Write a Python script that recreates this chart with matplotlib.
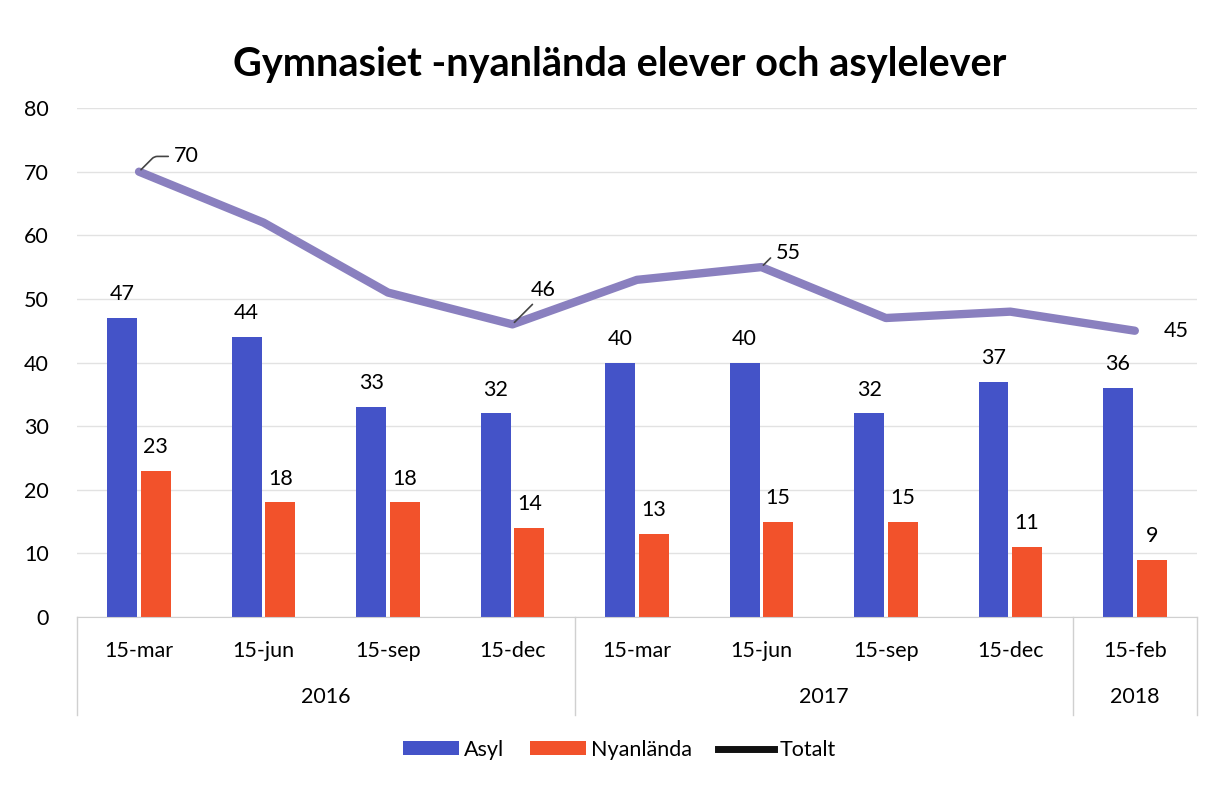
import matplotlib
matplotlib.use("Agg")
import matplotlib.pyplot as plt
from matplotlib.lines import Line2D
import numpy as np

plt.rcParams['font.family'] = ['Lato', 'DejaVu Sans']

months = ["15-mar", "15-jun", "15-sep", "15-dec", "15-mar", "15-jun", "15-sep", "15-dec", "15-feb"]
years = ["2016", "2017", "2018"]
year_spans = [(0, 3), (4, 7), (8, 8)]
asyl = [47, 44, 33, 32, 40, 40, 32, 37, 36]
nyanlanda = [23, 18, 18, 14, 13, 15, 15, 11, 9]
totalt = [70, 62, 51, 46, 53, 55, 47, 48, 45]
# which totals carry a label: index -> (dx, dy) offset in points
total_labels = {0: (34, 11), 3: (22, 25), 5: (19, 10), 8: (30, 0)}

BLUE = "#4453c8"
ORANGE = "#f2522b"
LINE = "#8a80bf"
FS = 15.5

fig = plt.figure(figsize=(12.19, 7.86), dpi=100)
ax = fig.add_axes([0.063, 0.215, 0.919, 0.6475])

x = np.arange(len(months))
w = 0.24
off = 0.135
b1 = ax.bar(x - off, asyl, w, color=BLUE, zorder=2)
b2 = ax.bar(x + off, nyanlanda, w, color=ORANGE, zorder=2)
ax.plot(x, totalt, color=LINE, lw=6, solid_capstyle="round", zorder=3)

for i in x:
    ax.annotate(str(asyl[i]), (i - off, asyl[i]), xytext=(0, 10), textcoords="offset points",
                ha="center", va="bottom", fontsize=FS)
    ax.annotate(str(nyanlanda[i]), (i + off, nyanlanda[i]), xytext=(0, 10), textcoords="offset points",
                ha="center", va="bottom", fontsize=FS)

for i, (dx, dy) in total_labels.items():
    arrow = None if i == 8 else dict(arrowstyle="-", color="#444444", lw=1.2,
                                     connectionstyle="angle,angleA=0,angleB=45,rad=3")
    ax.annotate(str(totalt[i]), (i, totalt[i]), xytext=(dx, dy), textcoords="offset points",
                ha="center", va="center", fontsize=FS, arrowprops=arrow)

ax.set_xlim(-0.5, len(months) - 0.5)
ax.set_ylim(0, 80)
ax.set_yticks(range(0, 81, 10))
ax.yaxis.grid(True, color="#e2e2e2", lw=1)
ax.set_axisbelow(True)
for s in ["top", "right", "left"]:
    ax.spines[s].set_visible(False)
ax.spines["bottom"].set_color("#d0d0d0")
ax.tick_params(axis="y", length=0, labelsize=FS, pad=20)
ax.tick_params(axis="x", length=0, labelsize=FS, pad=17)
ax.set_xticks(x)
ax.set_xticklabels(months)

# second level of the category axis
trans = ax.get_xaxis_transform()
for yr, (a, b) in zip(years, year_spans):
    ax.text((a + b) / 2, -0.158, yr, transform=trans, ha="center", va="center", fontsize=FS)
for edge in [-0.5, 3.5, 7.5, 8.5]:
    ax.plot([edge, edge], [0, -0.193], transform=trans, color="#d0d0d0", lw=1, clip_on=False)

fig.text(0.508, 0.918, "Gymnasiet -nyanlända elever och asylelever", ha="center", va="center",
         fontsize=28.5, fontweight="bold")

handles = [b1, b2, Line2D([], [], color="#111111", lw=5)]
fig.legend(handles, ["Asyl", "Nyanlända", "Totalt"], loc="center", bbox_to_anchor=(0.508, 0.046),
           ncol=3, frameon=False, fontsize=FS, handlelength=2.6, handleheight=0.6,
           columnspacing=1.2, handletextpad=0.25)

fig.savefig("out.png", dpi=100)
